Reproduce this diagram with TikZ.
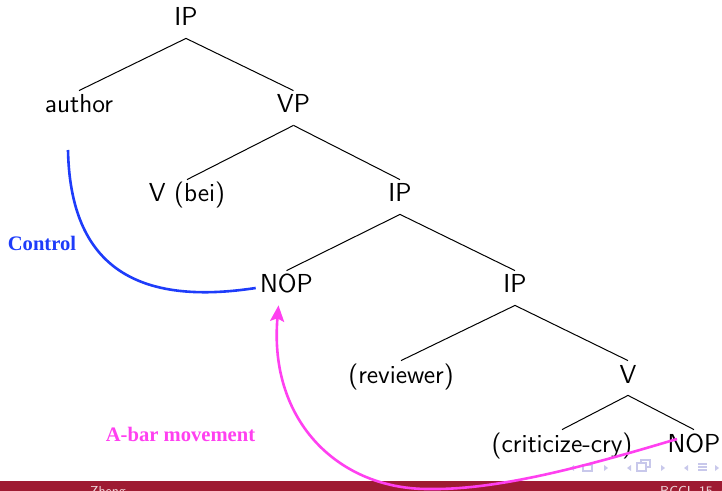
\documentclass[tikz,border=0pt]{standalone}
\usepackage{fontspec}
\newfontfamily\notefont{Liberation Serif}
\usetikzlibrary{positioning, calc, arrows.meta}

\definecolor{ctrlblue}{RGB}{30,60,250}
\definecolor{movepink}{RGB}{255,64,240}
\definecolor{barred}{RGB}{158,27,50}
\definecolor{navgray}{RGB}{200,200,235}

\begin{document}
\begin{tikzpicture}[x=0.5pt, y=-0.5pt, font=\fontsize{13}{15}\sffamily,
  tnode/.style={inner sep=0pt, text height=11pt, text depth=6pt, anchor=base},
  branch/.style={line width=0.5pt},
  note/.style={font=\fontsize{10.3}{12}\notefont\bfseries, anchor=base}]

  \useasboundingbox (0,0) rectangle (722,491);

  % --- tree nodes (each placed from its mother's baseline) ---
  \node [tnode] (ipA) at (186,26) {IP};
  \node [tnode] (author) at ([shift={(-107,87)}]ipA.base) {author};
  \node [tnode] (vp) at ([shift={(107.5,87)}]ipA.base) {VP};
  \node [tnode] (vbei) at ([shift={(-106.5,89)}]vp.base) {V (bei)};
  \node [tnode] (ipB) at ([shift={(106.5,89)}]vp.base) {IP};
  \node [tnode] (nopA) at ([shift={(-113.5,91)}]ipB.base) {NOP};
  \node [tnode] (ipC) at ([shift={(115,91)}]ipB.base) {IP};
  \node [tnode] (reviewer) at ([shift={(-114,90)}]ipC.base) {(reviewer)};
  \node [tnode] (vB) at ([shift={(113,90)}]ipC.base) {V};
  \node [tnode] (criticize) at ([shift={(-66,69)}]vB.base) {(criticize-cry)};
  \node [tnode] (nopB) at ([shift={(66,69)}]vB.base) {NOP};

  % --- branches ---
  \draw [branch] (ipA.south) -- (author.north);
  \draw [branch] (ipA.south) -- (vp.north);
  \draw [branch] (vp.south) -- (vbei.north);
  \draw [branch] (vp.south) -- (ipB.north);
  \draw [branch] (ipB.south) -- (nopA.north);
  \draw [branch] (ipB.south) -- (ipC.north);
  \draw [branch] (ipC.south) -- (reviewer.north);
  \draw [branch] (ipC.south) -- (vB.north);
  \draw [branch] (vB.south) -- (criticize.north);
  \draw [branch] (vB.south) -- (nopB.north);

  % --- footline ---
  \fill [barred] (0,481) rectangle (722,500);
  \node [font=\fontsize{6.5}{8}\sffamily, text=white!82!barred, anchor=base west] (speaker) at (83,495) {Zheng};
  \node [font=\fontsize{6.5}{8}\sffamily, text=white!82!barred, anchor=base west] (event) at (653,495) {BCCL 15, 6};

  % navigation symbols
  \foreach \x in {570,627,684} \fill [navgray] (\x,468) -- ++(4,-3) -- ++(0,6) -- cycle;
  \foreach \x in {604,661,715} \fill [navgray] (\x,465) -- ++(4,3) -- ++(-4,3) -- cycle;
  \draw [navgray, line width=0.6pt] (583,465) rectangle (592,471);
  \draw [navgray, line width=0.6pt] (641,460) rectangle (650,467);
  \draw [navgray, line width=0.6pt, fill=white] (637,463) rectangle (646,471);
  \foreach \yy in {464,467,470} \draw [navgray, line width=0.6pt] (698,\yy) -- (707,\yy);

  % --- control: author binds the null operator ---
  \node [note, text=ctrlblue] (ctrl) at (42,251) {Control};
  \draw [ctrlblue, line width=1.3pt] ([shift={(-11,37)}]author.base)
    .. controls +(2,100) and +(-137,21) .. ([xshift=-2pt]nopA.west);

  % --- A-bar movement of the lower NOP ---
  \node [note, text=movepink] (abar) at (180.5,441) {A-bar movement};
  \coordinate (dip) at (430,489);
  \draw [movepink, line width=1.3pt, -{Stealth[length=8pt, width=7pt, inset=1.5pt]}]
    ([shift={(-17,-13)}]nopB.base) .. controls +(-87,26) and +(70,1) .. (dip)
    .. controls +(-90,1) and +(-10,117) .. ([xshift=-4pt]nopA.south);

\end{tikzpicture}
\end{document}
